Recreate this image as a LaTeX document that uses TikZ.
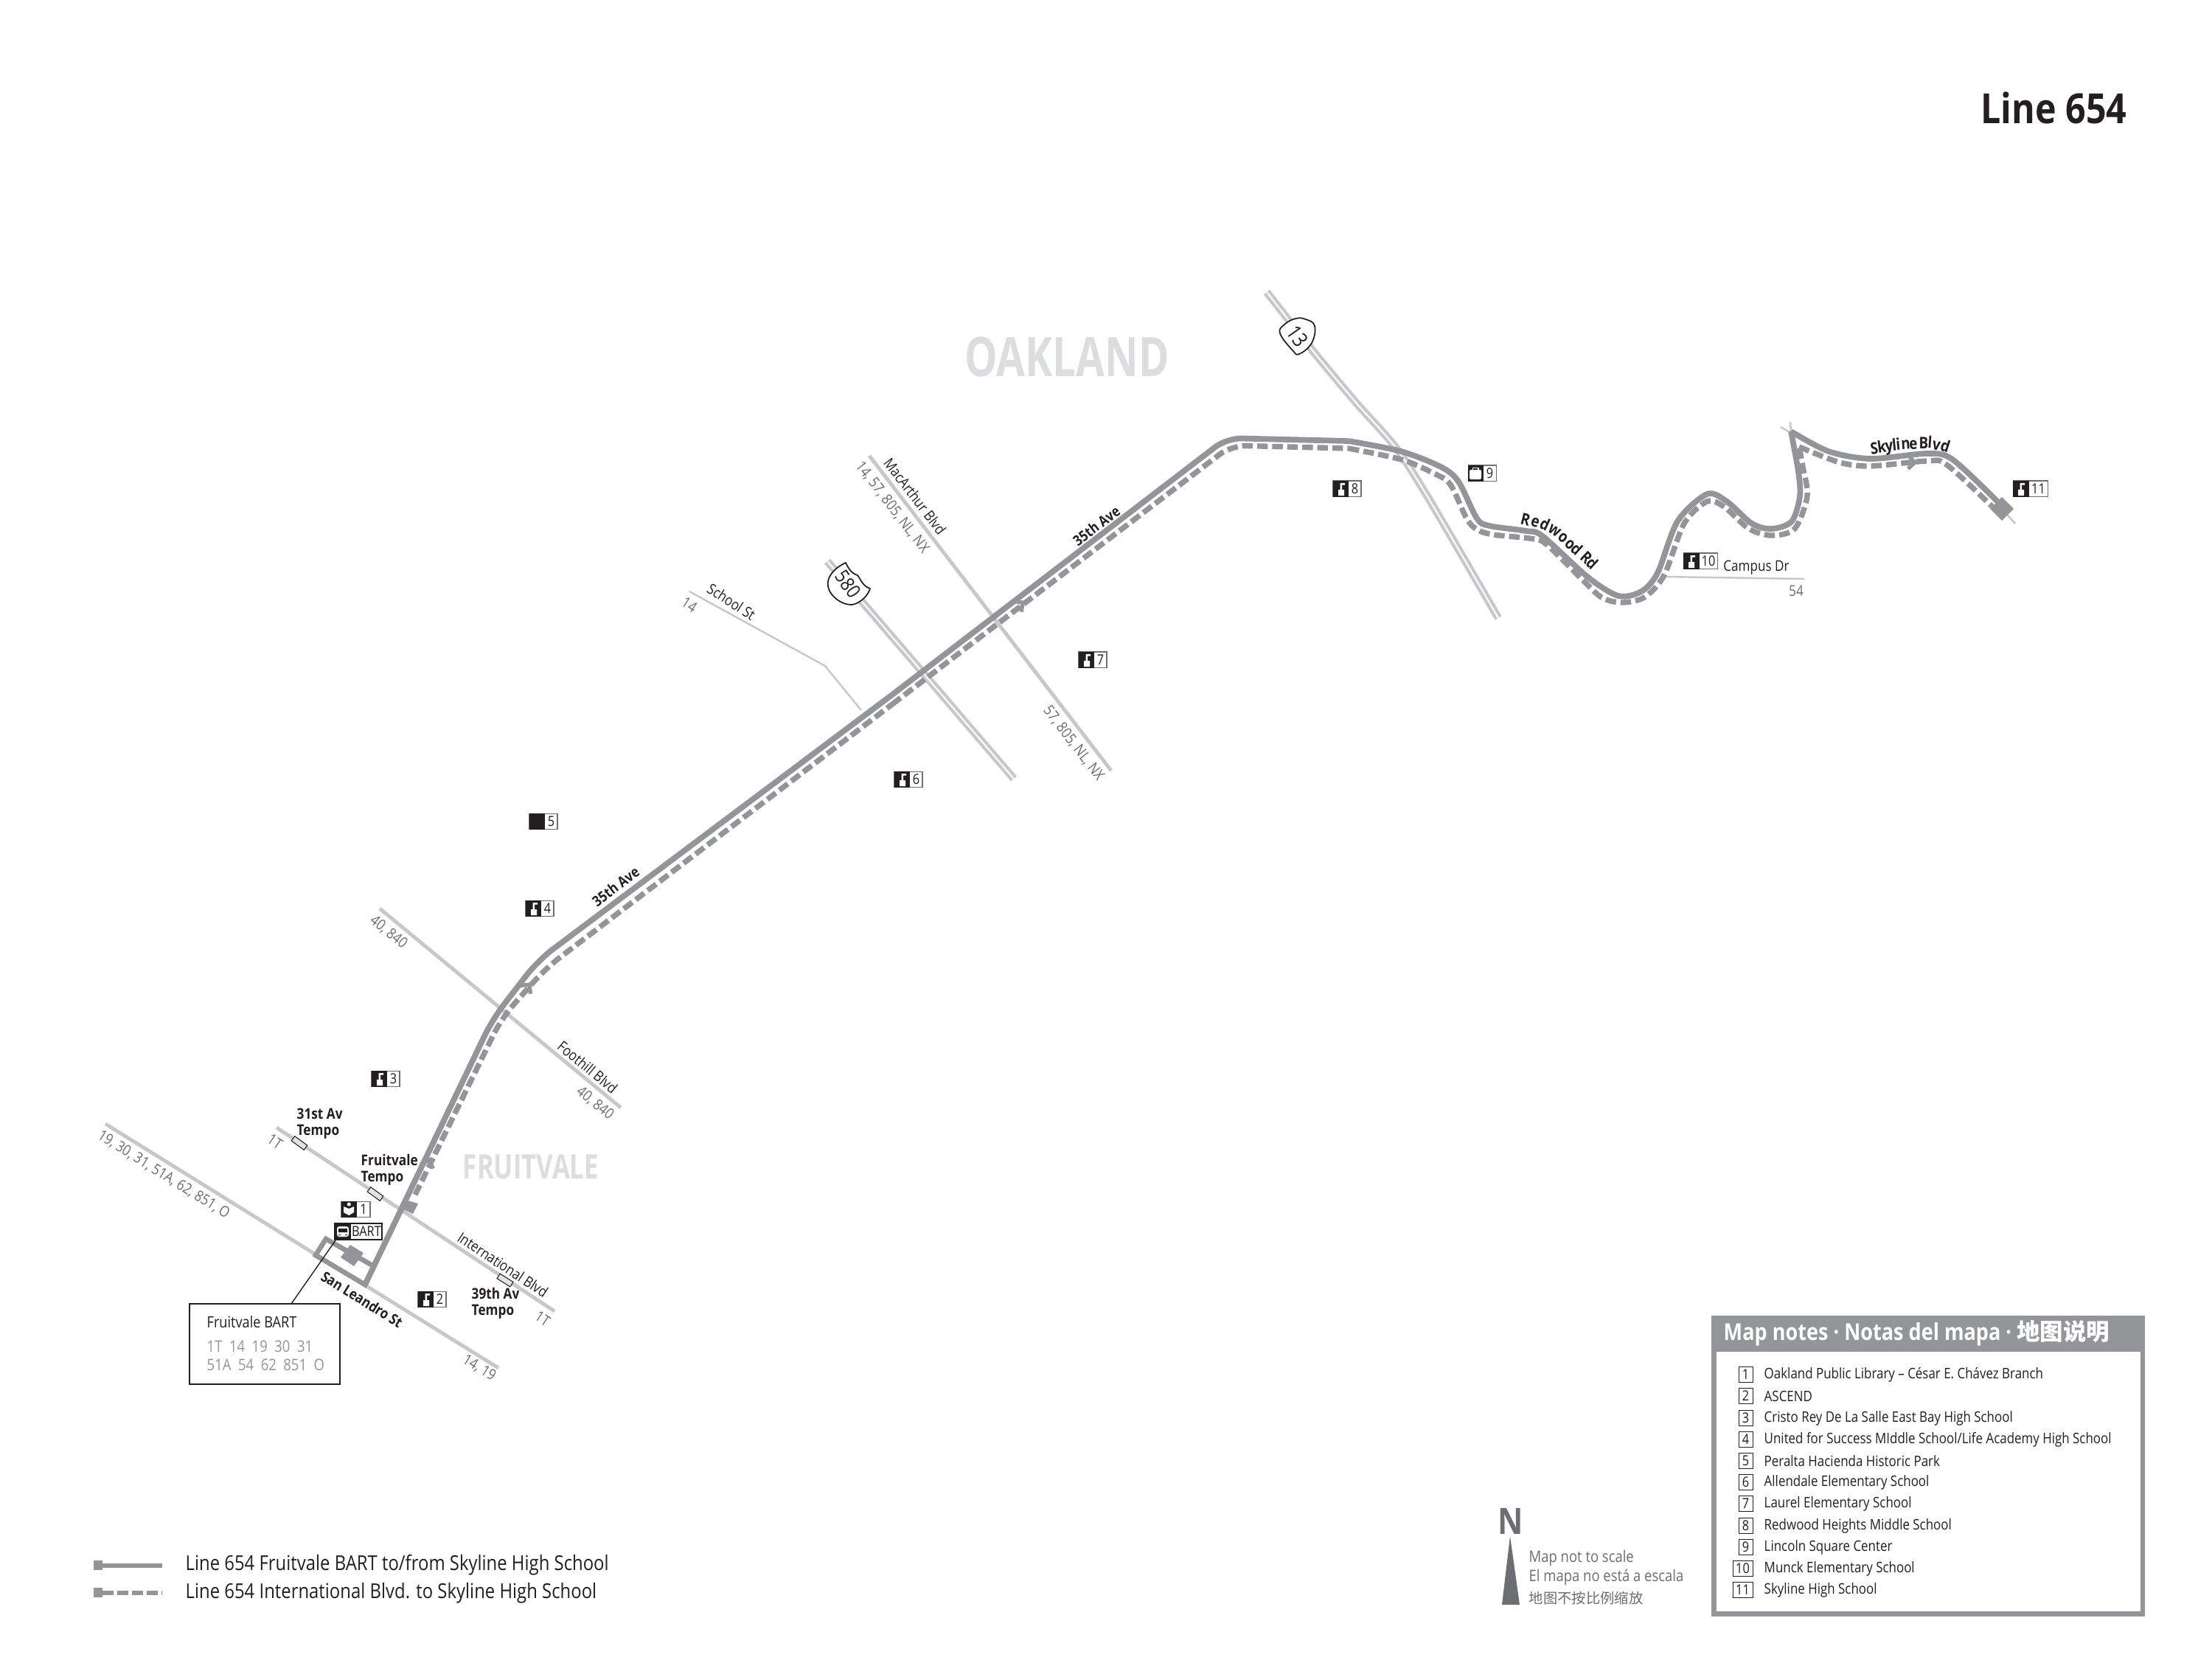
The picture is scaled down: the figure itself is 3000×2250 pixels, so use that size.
\documentclass[tikz,border=0pt]{standalone}
\usepackage{fontspec}
\setmainfont[FakeStretch=0.86]{Open Sans}
\newfontfamily\narrowf[FakeStretch=0.76]{Open Sans}
\newfontfamily\cjk{Noto Sans CJK SC}
\definecolor{ink}{HTML}{231F20}
\definecolor{routec}{HTML}{939598}
\definecolor{roadc}{HTML}{C7C8CA}
\definecolor{rnum}{HTML}{6D6E71}
\definecolor{areac}{HTML}{DCDDDE}
\definecolor{tempoc}{HTML}{E1E2E3}
\tikzset{
 road/.style={roadc,line width=1.4pt},
 thinroad/.style={roadc,line width=0.7pt},
 solidroute/.style={routec,line width=2.2pt,line join=miter},
 dashroute/.style={routec,line width=2.1pt,dash pattern=on 4.1pt off 1.7pt},
 lab/.style={text=ink,font=\fontsize{5.65}{7}\selectfont,inner sep=0pt},
 blab/.style={text=ink,font=\fontsize{5.6}{7}\selectfont\bfseries,inner sep=0pt},
 rlab/.style={text=rnum,font=\fontsize{5.75}{7}\selectfont,inner sep=0pt},
 numlab/.style={text=ink,font=\fontsize{5.4}{6}\selectfont,inner sep=0pt},
 note/.style={text=ink,font=\fontsize{5.6}{7}\selectfont,inner sep=0pt,anchor=west},
 notebox/.style={draw=ink,line width=0.3pt,fill=white},
 tempo/.style={draw=ink,fill=tempoc,line width=0.3pt,minimum width=6pt,minimum height=2.2pt,inner sep=0pt},
 chev/.style={routec,line width=1.5pt,line join=miter},
 shield/.style={draw=ink,fill=white,line width=0.5pt,line join=round},
 letterlab/.style={text=ink,font=\fontsize{6.2}{7}\selectfont\bfseries,inner sep=0pt,anchor=base}
}
% name, left, top, black width, total width, number
\newcommand\iconbox[6]{%
 \draw[draw=rnum,fill=white,line width=0.3pt] (#2,#3) rectangle ++(#5,21.5);
 \fill[ink] (#2,#3) rectangle ++(#4,21.5);
 \node[numlab] (#1) at ({#2+#4+(#5-#4)/2},{#3+10.5}) {#6};}
\newcommand\schoolglyph[2]{\begin{scope}[shift={(#1,#2)}]
 \fill[white] (7,12) rectangle (15,20) (9.5,5) rectangle (12,12) (9.5,3) rectangle (16,5.5);
 \end{scope}}
\newcommand\chevmark[3]{\begin{scope}[shift={(#1,#2)},rotate=#3]
 \draw[chev] (-9,9)--(0,0)--(-9,-9);\end{scope}}
\begin{document}
\begin{tikzpicture}[x=0.01cm,y=-0.01cm]
\useasboundingbox (0,0) rectangle (3000,2250);
\fill[white] (0,0) rectangle (3000,2250);
% roads
\draw[road] (143,1524)--(676,1855);
\draw[road] (375,1529)--(752,1778);
\draw[road] (515,1232)--(842,1502);
\draw[road] (1179,618)--(1507,1045);
\draw[thinroad] (935,802)--(1119,903)--(1168,963);
\draw[thinroad] (2258,782)--(2447,785);
\draw[thinroad] (2415,579)--(2429,587)--(2428,572);
\draw[thinroad] (2715,690)--(2733,710);
\draw[roadc,line width=3pt] (1122,761)--(1375,1056);
\draw[white,line width=0.6pt] (1122,761)--(1375,1056);
\draw[roadc,line width=3pt] plot[smooth,tension=0.5] coordinates {(1718,396)(1784,480)(1840,547)(1893,607)(1940,680)(2032,838)};
\draw[white,line width=0.6pt] plot[smooth,tension=0.5] coordinates {(1718,396)(1784,480)(1840,547)(1893,607)(1940,680)(2032,838)};
% fruitvale loop
\draw[routec,line width=1.9pt,line join=miter] (507,1717)--(442,1680)--(428,1702)--(495,1742)--(507,1717);
\fill[routec] (475,1688)--(493,1699)--(480,1717)--(462,1705)--cycle;
% stop on international
\fill[routec] (547,1640)--(553,1628)--(567,1632)--(560,1646)--cycle;
% solid route
\draw[solidroute,rounded corners=0.25cm] (495,1742)--(668,1382)--(730,1302)--(1210,942);
\draw[solidroute,rounded corners=0.2cm] (1210,942)--(1664,594)--(1829,598);
\draw[solidroute] plot[smooth,tension=0.5] coordinates {(1829,598)(1900,612)(1954,633)(1978,653)(2003,703)(2020,713)(2070,720)(2092,727)(2154,783)(2195,808)(2226,802)(2248,777)(2275,707)(2315,670)(2342,680)(2376,710)(2403,717)(2430,707)(2441,673)(2439,640)(2429,585)};
\draw[solidroute] plot[smooth,tension=0.5] coordinates {(2429,585)(2480,612)(2537,622)(2614,615)(2648,623)(2709,680)};
% dashed route
\draw[dashroute,rounded corners=0.25cm] (563,1620)--(680,1381)--(740,1313)--(1210,955);
\draw[dashroute,rounded corners=0.2cm] (1210,955)--(1670,604)--(1829,608);
\draw[dashroute] plot[smooth,tension=0.5] coordinates {(1829,608)(1900,623)(1945,642)(1967,657)(1989,703)(2003,718)(2025,725)(2074,730)(2096,737)(2145,785)(2172,810)(2199,817)(2230,810)(2257,780)(2284,710)(2315,680)(2338,687)(2372,717)(2403,726)(2434,717)(2451,673)(2445,633)(2440,606)};
\draw[dashroute] plot[smooth,tension=0.5] coordinates {(2440,606)(2495,627)(2537,632)(2614,625)(2640,630)(2702,687)};
\fill[routec] (2715,674)--(2731,690)--(2715,706)--(2699,690)--cycle;
\chevmark{718}{1335}{52}
\chevmark{1387}{817}{37}
\chevmark{2597}{627}{-2}
\chevmark{582}{1573}{70}
% callout
\node[draw=ink,fill=white,line width=0.5pt,minimum width=2.04cm,minimum height=1.09cm,inner sep=0pt] (fbox) at (359,1822.5) {};
\draw[ink,line width=0.4pt] (455,1682)--(395,1768);
\node[lab,anchor=west,font=\fontsize{6}{7}\selectfont] (fbart) at (280,1793) {Fruitvale BART};
\node[lab,anchor=west,text=routec,font=\fontsize{6.1}{7}\selectfont] (froutes1) at (280,1826) {1T\ \ 14\ \ 19\ \ 30\ \ 31};
\node[lab,anchor=west,text=routec,font=\fontsize{6.1}{7}\selectfont] (froutes2) at (280,1851) {51A\ \ 54\ \ 62\ \ 851\ \ O};
% shields
\draw[shield] (1147,763) .. controls (1128,772) and (1121,785) .. (1123,795) .. controls (1126,812) and (1150,825) .. (1162,818) .. controls (1172,813) and (1178,805) .. (1180,798) .. controls (1170,795) and (1167,785) .. (1163,780) .. controls (1155,778) and (1150,770) .. (1147,763) -- cycle;
\node[lab,rotate=-55,font=\fontsize{7.5}{8}\selectfont] (s580) at (1150,792) {580};
\draw[shield] plot[smooth cycle,tension=0.7] coordinates {(1771,433)(1783,442)(1779,465)(1762,480)(1753,475)(1736,452)(1742,440)(1757,432)};
\node[lab,rotate=-55,font=\fontsize{8}{9}\selectfont] (s13) at (1760,456) {13};
% tempo
\node[tempo,rotate=-36] (t1) at (406,1550) {};
\node[tempo,rotate=-36] (t2) at (509,1619) {};
\node[tempo,rotate=-32] (t3) at (685,1736) {};
% icons
\iconbox{i1}{463}{1629}{21}{39}{1}
\begin{scope}[shift={(463,1629)}]
 \fill[white] (10.3,4) circle (2.5) (3,7)--(10.3,10)--(17,7)--(17,15)--(10.3,19)--(3,15)--cycle;
\end{scope}
\draw[ink,line width=0.4pt,fill=white] (454,1659) rectangle (518,1681);
\fill[ink] (454,1659) rectangle (476,1681);
\node[numlab] (ibart) at (497,1670) {BART};
\begin{scope}[shift={(454,1659)}]
 \fill[white,rounded corners=0.03cm] (3,4) rectangle (19,18);
 \fill[ink] (5,7) rectangle (17,12) (5,15) rectangle (8,16) (14,15) rectangle (17,16);
\end{scope}
\iconbox{i2}{567}{1751}{21}{38}{2}\schoolglyph{567}{1751}
\iconbox{i3}{504}{1452}{21}{38}{3}\schoolglyph{504}{1452}
\iconbox{i4}{713}{1221}{21}{38}{4}\schoolglyph{713}{1221}
\iconbox{i5}{718}{1103}{21}{38}{5}
\iconbox{i6}{1213}{1046}{21}{38}{6}\schoolglyph{1213}{1046}
\iconbox{i7}{1463}{884}{21}{38}{7}\schoolglyph{1463}{884}
\iconbox{i8}{1808}{652}{21}{38}{8}\schoolglyph{1808}{652}
\iconbox{i9}{1991}{631}{21}{38}{9}
\begin{scope}[shift={(1991,631)}]
 \fill[white,rounded corners=0.02cm] (2,6) rectangle (18,19);
 \draw[white,line width=0.4pt] (6.5,6)--(6.5,3.5)--(14,3.5)--(14,6);
\end{scope}
\iconbox{i10}{2283}{750}{22}{46}{10}\schoolglyph{2283}{750}
\iconbox{i11}{2730}{652}{22}{47}{11}\schoolglyph{2730}{652}
% area labels
\node[font=\fontsize{21}{24}\selectfont\narrowf\bfseries,text=areac,inner sep=0pt] (oak) at (1447,484) {OAKLAND};
\node[font=\fontsize{13}{14}\selectfont\narrowf\bfseries,text=areac,inner sep=0pt] (fru) at (720,1582) {FRUITVALE};
\node[font=\fontsize{16}{18}\selectfont\bfseries,text=ink,inner sep=0pt,anchor=east] (title) at (2885,146) {Line 654};
% street labels
\node[blab,rotate=37] (a1) at (835,1202) {35th Ave};
\node[blab,rotate=37] (a2) at (1487,713) {35th Ave};
\foreach \ch/\lx/\ly/\la [count=\k] in {R/2067/712/-14,e/2080/714/-18,d/2092/718/-25,w/2105/725/-32,o/2116/734/-38,o/2125/743/-40,d/2133/750/-42,R/2146/762/-43,d/2154/770/-43}
 \node[letterlab,rotate=\la] (rw\k) at (\lx,\ly) {\ch};
\foreach \ch/\lx/\ly/\la [count=\k] in {S/2543/616/8,k/2553/614/8,y/2563/612/7,l/2570/611/6,i/2575/610/5,n/2585/609/4,e/2595/609/2,B/2609/608/0,l/2617/608/-4,v/2625/610/-10,d/2636/612/-18}
 \node[letterlab,rotate=\la] (sk\k) at (\lx,\ly) {\ch};
\node[lab] (camp) at (2382,770) {Campus Dr};
\node[rlab] (r54) at (2436,801) {54};
\node[lab,rotate=-39.5] (foot) at (797,1447) {Foothill Blvd};
\node[rlab,rotate=-39.5] (f1) at (527,1264) {40, 840};
\node[rlab,rotate=-39.5] (f2) at (807,1496) {40, 840};
\node[lab,rotate=-52.5] (mac) at (1241,673) {MacArthur Blvd};
\node[rlab,rotate=-52.5] (m1) at (1210,688) {14, 57, 805, NL, NX};
\node[rlab,rotate=-52.5] (m2) at (1456,1008) {57, 805, NL, NX};
\node[lab,rotate=-33] (sch) at (992,816) {School St};
\node[rlab,rotate=-33] (s14) at (935,820) {14};
\node[blab,rotate=-32] (sl) at (491,1762) {San Leandro St};
\node[lab,rotate=-33.4] (intl) at (682,1715) {International Blvd};
\node[rlab,rotate=-33.4] (t1a) at (373,1548) {1T};
\node[rlab,rotate=-33.4] (t1b) at (736,1788) {1T};
\node[rlab,rotate=-32] (sl1) at (222,1593) {19, 30, 31, 51A, 62, 851, O};
\node[rlab,rotate=-32] (sl2) at (650,1855) {14, 19};
\node[blab,anchor=west,align=left,font=\fontsize{5.7}{6.2}\selectfont\bfseries] (tp1) at (402,1524) {31st Av\\Tempo};
\node[blab,anchor=west,align=left,font=\fontsize{5.7}{6.2}\selectfont\bfseries] (tp2) at (489,1586) {Fruitvale\\Tempo};
\node[blab,anchor=west,align=left,font=\fontsize{5.7}{6.2}\selectfont\bfseries] (tp3) at (639,1767) {39th Av\\Tempo};
% legend
\fill[routec] (127,2116) rectangle (139,2129);
\draw[routec,line width=1.7pt] (135,2122.5)--(220,2122.5);
\fill[routec] (127,2153) rectangle (139,2166);
\draw[routec,line width=1.7pt,dash pattern=on 4.2pt off 1.5pt] (139,2160)--(220,2160);
\node[anchor=west,text=ink,inner sep=0pt,font=\fontsize{7.9}{9}\selectfont] (leg1) at (251,2122) {Line 654 Fruitvale BART to/from Skyline High School};
\node[anchor=west,text=ink,inner sep=0pt,font=\fontsize{7.9}{9}\selectfont] (leg2) at (251,2160) {Line 654 International Blvd. to Skyline High School};
% north
\node[font=\fontsize{14}{15}\selectfont\bfseries,text=rnum,inner sep=0pt] (north) at (2049,2063) {N};
\fill[rnum] (2048,2083)--(2061,2176)--(2037,2176)--cycle;
\node[anchor=west,text=rnum,inner sep=0pt,font=\fontsize{6.1}{7}\selectfont] (sc1) at (2073,2113) {Map not to scale};
\node[anchor=west,text=rnum,inner sep=0pt,font=\fontsize{6.1}{7}\selectfont] (sc2) at (2073,2139) {El mapa no está a escala};
\node[anchor=west,text=rnum,inner sep=0pt,font=\fontsize{5.5}{7}\selectfont\cjk] (sc3) at (2073,2167) {地图不按比例缩放};
% notes panel
\fill[routec] (2321,1784) rectangle (2909,2192);
\fill[white] (2328,1833) rectangle (2903,2185);
\node[anchor=west,text=white,inner sep=0pt,font=\fontsize{8.95}{10}\selectfont\bfseries] (nt) at (2337,1808) {Map notes · Notas del mapa · {\cjk 地图说明}};
\foreach \n/\ty/\lft/\txt in {
 1/1864/2358/{Oakland Public Library – César E. Chávez Branch},
 2/1893/2358/{ASCEND},
 3/1923/2358/{Cristo Rey De La Salle East Bay High School},
 4/1952/2358/{United for Success MIddle School/Life Academy High School},
 5/1981/2358/{Peralta Hacienda Historic Park},
 6/2010/2358/{Allendale Elementary School},
 7/2039/2358/{Laurel Elementary School},
 8/2069/2358/{Redwood Heights Middle School},
 9/2098/2358/{Lincoln Square Center},
 10/2127/2350/{Munck Elementary School},
 11/2156/2350/{Skyline High School}}{
 \draw[notebox] (\lft,\ty-10.5) rectangle (2377,\ty+10.5);
 \node[numlab] (nb\n) at ({(\lft+2377)/2},\ty) {\n};
 \node[note] (nn\n) at (2392,\ty) {\txt};
}
\end{tikzpicture}
\end{document}
